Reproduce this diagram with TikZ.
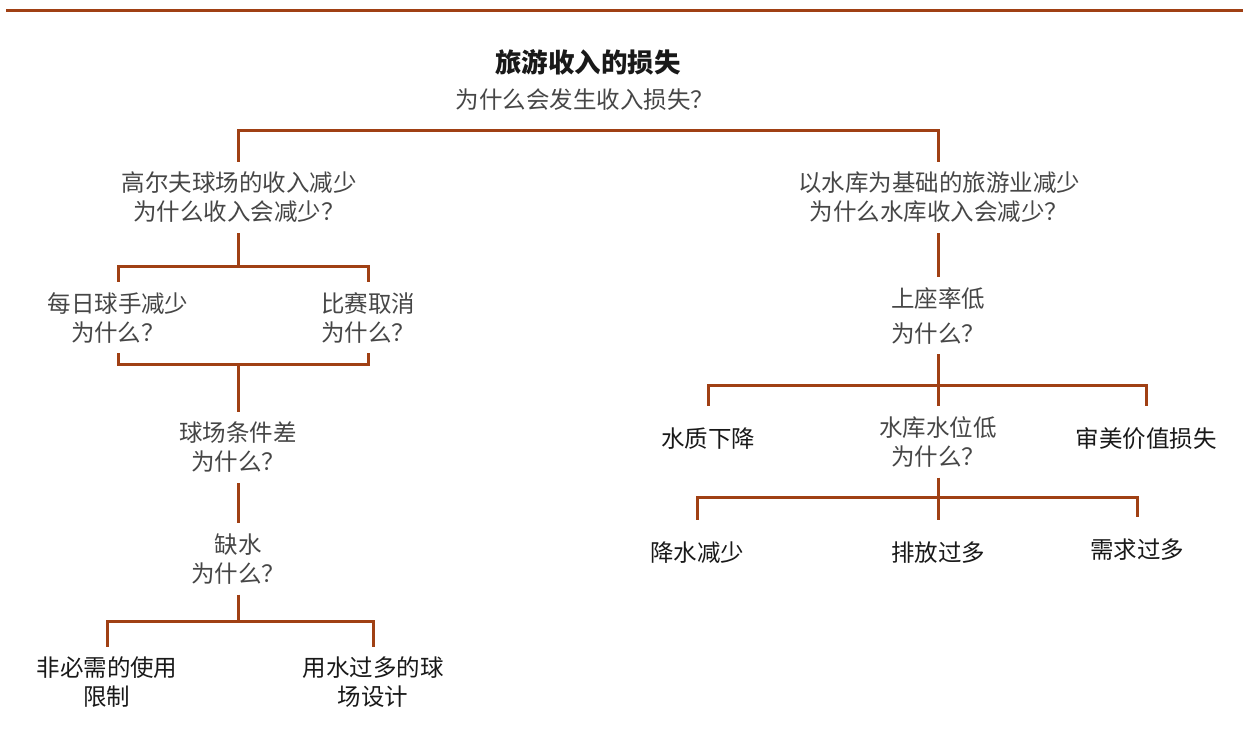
\documentclass[tikz,border=0pt]{standalone}
\usepackage{fontspec}
\setmainfont{Noto Sans CJK SC}
\usetikzlibrary{positioning}
\definecolor{rust}{RGB}{160,64,20}
\definecolor{qtext}{RGB}{70,70,70}
\tikzset{link/.style = {draw=rust, line width = 3pt},
  why/.style = {align = center, inner xsep = 0, inner ysep = 10pt, text = qtext,
    font = \fontsize{23.5}{29}\selectfont},
  leaf/.style = {align = center, inner xsep = 0, inner ysep = 10pt, text = black!90,
    font = \fontsize{23.5}{29}\selectfont}}

\begin{document}
\begin{tikzpicture}[x = 1pt, y = -1pt]

      \useasboundingbox (0, 0) rectangle (1243, 750);
      \coordinate (rl) at (6, 10);
      \coordinate (rr) at (1243, 10);
      \draw [link] (rl) -- (rr);

      % top
      \node [leaf, font = \fontsize{26.5}{30}\selectfont\bfseries] (title) at (588, 62) {旅游收入的损失};
      \node [why] (rootq) at (585, 100) {为什么会发生收入损失？};

      % golf branch
      \node [why] (golf) at (239, 197.5) {高尔夫球场的收入减少\\为什么收入会减少？};
      \node [why] (players) at (118, 317.5) {每日球手减少\\为什么？};
      \node [why] (cancel) at (368, 317.5) {比赛取消\\为什么？};
      \node [why] (course) at (238, 447.5) {球场条件差\\为什么？};
      \node [why] (lack) at (238, 559) {缺水\\为什么？};
      \node [leaf] (limit) at (107, 682.5) {非必需的使用\\限制};
      \node [leaf] (design) at (373, 682.5) {用水过多的球\\场设计};

      % lake branch
      \node [why] (lake) at (939, 197.5) {以水库为基础的旅游业减少\\为什么水库收入会减少？};
      \node [why] (seat) at (938, 315.5) {上座率低\\[6pt]为什么？};
      \node [leaf] (quality) at (708, 439) {水质下降};
      \node [why] (level) at (938, 442) {水库水位低\\为什么？};
      \node [leaf] (beauty) at (1146, 439) {审美价值损失};
      \node [leaf] (rain) at (697, 553) {降水减少};
      \node [leaf] (outflow) at (938, 553) {排放过多};
      \node [leaf] (demand) at (1137, 550) {需求过多};

      \coordinate (j0) at (588, 130);
      \coordinate (j1) at (238, 266);
      \coordinate (j2) at (238, 364);
      \coordinate (j3) at (238, 621);
      \coordinate (j4) at (938, 385);
      \coordinate (j5) at (938, 497);

      \draw [link] ([xshift = -1pt]golf.north) |- (j0) -| ([xshift = -1pt]lake.north);
      \draw [link] ([xshift = -1pt]golf.south) -- (j1);
      \draw [link] (players.north) |- (j1) -| (cancel.north);
      \draw [link] (players.south) |- (j2) -| (cancel.south);
      \draw [link] (j2) -- (course.north);
      \draw [link] (course.south) -- (lack.north);
      \draw [link] (lack.south) -- (j3);
      \draw [link] (limit.north) |- (j3) -| (design.north);

      \draw [link] ([xshift = -1pt]lake.south) -- (seat.north);
      \draw [link] (seat.south) -- (level.north);
      \draw [link] ([yshift = 12pt]quality.north) |- (j4) -| ([yshift = 12pt]beauty.north);
      \draw [link] (level.south) -- ([yshift = 12pt]outflow.north);
      \draw [link] ([yshift = 12pt]rain.north) |- (j5) -| ([yshift = 12pt]demand.north);
    \end{tikzpicture}
\end{document}
